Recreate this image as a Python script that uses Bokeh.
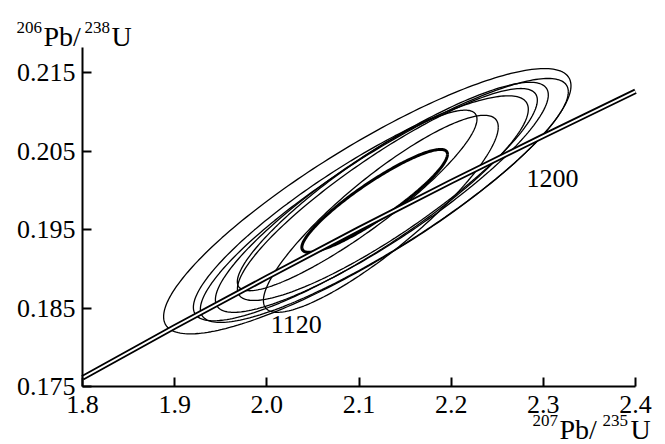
import numpy as np
from bokeh.plotting import figure
from bokeh.models import FixedTicker, Label
from bokeh.core.properties import value
from bokeh.embed import file_html
from bokeh.resources import INLINE

# ---- data ----
x_ticks = [1.8, 1.9, 2.0, 2.1, 2.2, 2.3, 2.4]
x_tick_labels = ["1.8", "1.9", "2.0", "2.1", "2.2", "2.3", "2.4"]
y_ticks = [0.175, 0.185, 0.195, 0.205, 0.215]
y_tick_labels = ["0.175", "0.185", "0.195", "0.205", "0.215"]

# concordia curve (207Pb/235U vs 206Pb/238U)
conc_x = [1.8, 1.9, 2.0, 2.1, 2.2, 2.3, 2.4]
conc_y = [0.1761, 0.1826, 0.1889, 0.1951, 0.2011, 0.2069, 0.2126]

# age labels on concordia (Ma)
age_text = ["1120", "1200"]
age_x = [2.032, 2.310]
age_y = [0.1829, 0.2015]

# analysis error ellipses: centre, half-extent in x / y, correlation
ell_cx = [2.109, 2.1275, 2.1248, 2.1308, 2.102, 2.1237, 2.098]
ell_cy = [0.1986, 0.1987, 0.1991, 0.19946, 0.1977, 0.1970, 0.1987]
ell_ax = [0.221, 0.1996, 0.1806, 0.1627, 0.1817, 0.1274, 0.130]
ell_ay = [0.0169, 0.01554, 0.01465, 0.0135, 0.01433, 0.01255, 0.0115]
ell_rho = [0.87, 0.89, 0.89, 0.89, 0.88, 0.88, 0.90]

# weighted mean / concordia age ellipse
mean_cx, mean_cy, mean_ax, mean_ay, mean_rho = 2.117, 0.19865, 0.079, 0.00655, 0.905

# axis titles: (text, is superscript)
y_title = [("206", True), ("Pb/", False), ("238", True), ("U", False)]
x_title = [("207", True), ("Pb/", False), ("235", True), ("U", False)]

FONT = "Liberation Serif"

# visible axis extents
X_MIN, X_MAX = 1.8, 2.4
Y_MIN, Y_MAX = 0.175, 0.2182

# the plot frame fills the whole canvas; the axes are pinned inside it
W, H = 665, 444
LEFT, BOTTOM = 82, 58          # pixel position of the axes' origin
PX_X = (635 - LEFT) / (X_MAX - X_MIN)
PX_Y = (386 - 72) / (0.215 - 0.175)


def ellipse_xy(cx, cy, ax, ay, rho, n=240):
    t = np.linspace(0, 2 * np.pi, n)
    xs = cx + ax * np.cos(t)
    ys = cy + ay * (rho * np.cos(t) + np.sqrt(1 - rho ** 2) * np.sin(t))
    return list(xs), list(ys)


p = figure(width=W, height=H, output_backend="svg", toolbar_location=None,
           x_range=(X_MIN - LEFT / PX_X, X_MIN + (W - LEFT) / PX_X),
           y_range=(Y_MIN - BOTTOM / PX_Y, Y_MIN + (H - BOTTOM) / PX_Y),
           min_border=0)
p.outline_line_color = None
p.xgrid.visible = False
p.ygrid.visible = False
p.background_fill_color = "white"
p.border_fill_color = "white"

xs_all, ys_all = [], []
for i in range(len(ell_cx)):
    xs, ys = ellipse_xy(ell_cx[i], ell_cy[i], ell_ax[i], ell_ay[i], ell_rho[i])
    xs_all.append(xs)
    ys_all.append(ys)
p.multi_line(xs_all, ys_all, line_color="black", line_width=1.3)

mx, my = ellipse_xy(mean_cx, mean_cy, mean_ax, mean_ay, mean_rho)
p.line(mx, my, line_color="black", line_width=3)

# concordia band: double line
p.line(conc_x, conc_y, line_color="black", line_width=5.5)
p.line(conc_x, conc_y, line_color="white", line_width=1.8)

p.text(x=age_x, y=age_y, text=age_text, text_font=value(FONT),
       text_font_size="26px", text_align="center", text_baseline="middle", text_color="black")

for ax in (p.xaxis[0], p.yaxis[0]):
    ax.axis_line_width = 2
    ax.major_tick_line_width = 2
    ax.major_tick_in = 9
    ax.major_tick_out = 0
    ax.minor_tick_line_color = None
    ax.major_label_text_font = FONT
    ax.major_label_text_font_size = "26px"
    ax.major_label_text_color = "black"
    ax.axis_line_color = "black"
    ax.major_tick_line_color = "black"

p.xaxis.fixed_location = Y_MIN
p.yaxis.fixed_location = X_MIN
p.xaxis.bounds = (X_MIN, X_MAX)
p.yaxis.bounds = (Y_MIN, Y_MAX)
p.xaxis.ticker = FixedTicker(ticks=x_ticks)
p.yaxis.ticker = FixedTicker(ticks=y_ticks)
p.xaxis.major_label_overrides = {t: l for t, l in zip(x_ticks, x_tick_labels)}
p.yaxis.major_label_overrides = {t: l for t, l in zip(y_ticks, y_tick_labels)}
p.xaxis.major_label_standoff = 9
p.yaxis.major_label_standoff = 7


def add_title(pieces, xs, y_base, y_sup):
    for (txt, sup), xpos in zip(pieces, xs):
        p.add_layout(Label(x=xpos, y=(y_sup if sup else y_base), x_units="screen", y_units="screen",
                           text=txt, text_font=FONT, text_baseline="alphabetic",
                           text_font_size=("17px" if sup else "28px"), text_color="black"))


# screen positions (px from the canvas' lower-left corner)
add_title(y_title, [16, 43, 84, 111], H - 36, H - 27)
add_title(x_title, [532, 559, 602, 630], H - 429, H - 420)

open("out.html", "w").write(file_html(p, INLINE))
